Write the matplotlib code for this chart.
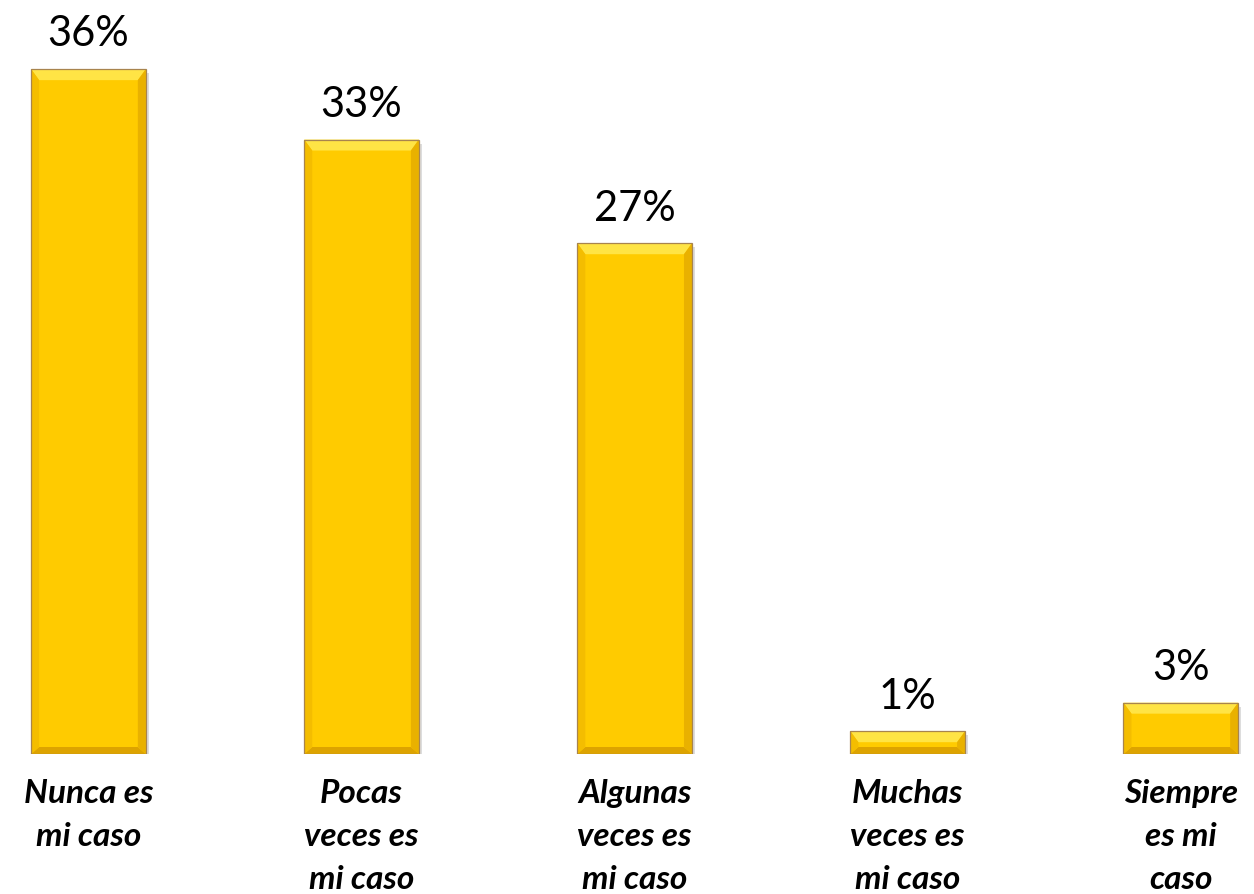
import matplotlib
matplotlib.use("Agg")
import matplotlib.pyplot as plt
from matplotlib.patches import Polygon, Rectangle

categories = [
    "Nunca es\nmi caso",
    "Pocas\nveces es\nmi caso",
    "Algunas\nveces es\nmi caso",
    "Muchas\nveces es\nmi caso",
    "Siempre\nes mi\ncaso",
]
values = [36.0, 32.3, 26.85, 1.2, 2.7]
value_labels = ["36%", "33%", "27%", "1%", "3%"]

FACE = "#FFCB00"
TOP = "#FFE445"
BOTTOM = "#DDA300"
LEFT = "#F4BD00"
RIGHT = "#E9B100"
EDGE = "#A8844E"

fig = plt.figure(figsize=(12.54, 8.95), dpi=100)
ax = fig.add_axes([0, 0.1564, 1, 0.829])
ax.set_xlim(-0.324, 4.268)
ax.set_ylim(0, 39)
ax.axis("off")

x = list(range(len(values)))
width = 0.42
bars = ax.bar(x, values, width=width, color=FACE, linewidth=0, zorder=3)

# pixel -> data sizes for the bevel
inv = ax.transData.inverted()
p0 = inv.transform((0, 0))
bx = inv.transform((8, 0))[0] - p0[0]
bt = inv.transform((0, 11))[1] - p0[1]
bb = inv.transform((0, 7))[1] - p0[1]
sx = inv.transform((3, 0))[0] - p0[0]
sy = inv.transform((0, 4))[1] - p0[1]

for b in bars:
    x0, y0 = b.get_x(), b.get_y()
    x1, y1 = x0 + b.get_width(), y0 + b.get_height()
    # soft shadow
    ax.add_patch(Rectangle((x0 + sx, y0 - sy), x1 - x0, y1 - y0,
                           facecolor="#7a7a7a", alpha=0.25, linewidth=0, zorder=2))
    ax.add_patch(Polygon([(x0, y1), (x1, y1), (x1 - bx, y1 - bt), (x0 + bx, y1 - bt)],
                         closed=True, facecolor=TOP, linewidth=0, zorder=4))
    ax.add_patch(Polygon([(x0, y0), (x1, y0), (x1 - bx, y0 + bb), (x0 + bx, y0 + bb)],
                         closed=True, facecolor=BOTTOM, linewidth=0, zorder=4))
    ax.add_patch(Polygon([(x0, y0), (x0 + bx, y0 + bb), (x0 + bx, y1 - bt), (x0, y1)],
                         closed=True, facecolor=LEFT, linewidth=0, zorder=4))
    ax.add_patch(Polygon([(x1, y0), (x1 - bx, y0 + bb), (x1 - bx, y1 - bt), (x1, y1)],
                         closed=True, facecolor=RIGHT, linewidth=0, zorder=4))
    ax.add_patch(Rectangle((x0, y0), x1 - x0, y1 - y0, facecolor="none",
                           edgecolor=EDGE, linewidth=0.9, zorder=5))

for xi, v, lab in zip(x, values, value_labels):
    ax.annotate(lab, (xi, v), xytext=(0, 12), textcoords="offset points",
                ha="center", va="bottom", fontsize=30, family="Lato", color="black")

for xi, cat in zip(x, categories):
    ax.annotate(cat, (xi, 0), xytext=(0, -17), textcoords="offset points",
                ha="center", va="top", fontsize=24, family="Lato",
                fontweight="bold", fontstyle="italic", linespacing=1.6,
                multialignment="center", annotation_clip=False)

fig.savefig("out.png", dpi=100)
